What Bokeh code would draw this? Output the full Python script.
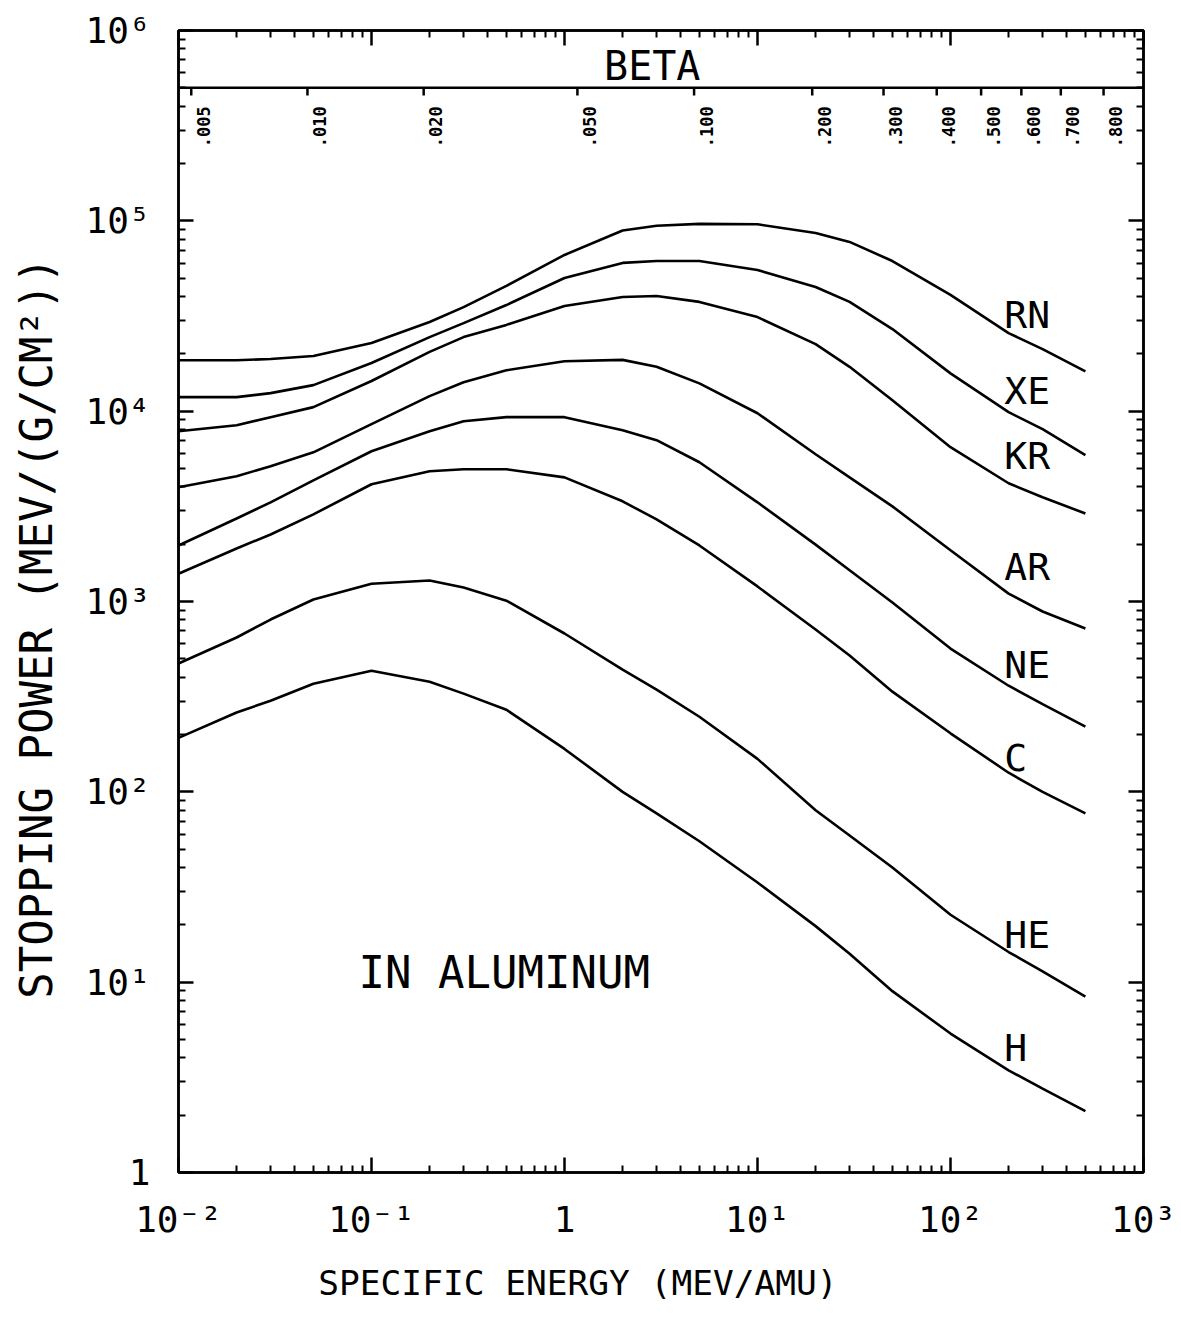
import math
from bokeh.plotting import figure
from bokeh.models import LogAxis, FixedTicker, CustomJSTickFormatter, Span, ColumnDataSource
from bokeh.core.properties import value
from bokeh.embed import file_html
from bokeh.resources import INLINE

FONT = "DejaVu Sans Mono"

# ---- data ----
energy = [0.01, 0.02, 0.03, 0.05, 0.1, 0.2, 0.3, 0.5, 1, 2, 3, 5, 10, 20, 30, 50, 100, 200, 300, 500]

rn = [18500, 18500, 18800, 19500, 22800, 29400, 35200, 45500, 66200, 89000, 94200, 96400, 95900, 86400, 77500, 61500, 40800, 25700, 21200, 16200]
xe = [11850, 11850, 12440, 13700, 17900, 24500, 29000, 36100, 50100, 60100, 61500, 61500, 55200, 44900, 37500, 27000, 15800, 9880, 8040, 5870]
kr = [7850, 8440, 9290, 10500, 14400, 20500, 24500, 28400, 35700, 39800, 40300, 37500, 31200, 22500, 17100, 11400, 6470, 4180, 3530, 2900]
ar = [3980, 4550, 5140, 6080, 8550, 12000, 14200, 16400, 18300, 18600, 17100, 14000, 9750, 5940, 4490, 3160, 1860, 1100, 886, 721]
ne = [1970, 2730, 3320, 4330, 6160, 7850, 8860, 9300, 9300, 7940, 7040, 5390, 3320, 1990, 1460, 988, 566, 361, 289, 220]
c_ = [1400, 1900, 2250, 2870, 4130, 4830, 4950, 4950, 4490, 3360, 2700, 1970, 1200, 713, 520, 336, 203, 126, 100, 77]
he = [472, 647, 804, 1025, 1240, 1290, 1185, 1010, 679, 439, 344, 248, 149, 80, 59, 40, 22.6, 14.4, 11.4, 8.4]
h_ = [192, 261, 301, 370, 433, 379, 328, 270, 168, 100, 77, 55, 33.4, 19.7, 14.1, 8.97, 5.37, 3.44, 2.76, 2.1]

curve_names = ["RN", "XE", "KR", "AR", "NE", "C", "HE", "H"]
curves = [rn, xe, kr, ar, ne, c_, he, h_]
label_energy = [190, 190, 190, 190, 190, 190, 190, 190]
label_power = [32000, 12700, 5800, 1510, 466, 151, 17.7, 4.5]

beta_values = [0.005, 0.01, 0.02, 0.05, 0.1, 0.2, 0.3, 0.4, 0.5, 0.6, 0.7, 0.8]
beta_labels = [".005", ".010", ".020", ".050", ".100", ".200", ".300", ".400", ".500", ".600", ".700", ".800"]
AMU_MEV = 931.494
beta_energy = [AMU_MEV * (1.0 / math.sqrt(1.0 - b * b) - 1.0) for b in beta_values]

x_ticks = [1e-2, 1e-1, 1, 1e1, 1e2, 1e3]
x_tick_labels = ["10\u207b\u00b2", "10\u207b\u00b9", "1", "10\u00b9", "10\u00b2", "10\u00b3"]
y_ticks = [1, 1e1, 1e2, 1e3, 1e4, 1e5, 1e6]
y_tick_labels = ["1", "10\u00b9", "10\u00b2", "10\u00b3", "10\u2074", "10\u2075", "10\u2076"]

x_title = "SPECIFIC ENERGY (MEV/AMU)"
y_title = "STOPPING POWER (MEV/(G/CM\u00b2))"
NBSP = "\u00a0"

def minor_of(decades):
    return [k * d for d in decades[:-1] for k in range(2, 10)]

x_ticker = FixedTicker(ticks=x_ticks, minor_ticks=minor_of(x_ticks))
y_ticker = FixedTicker(ticks=y_ticks, minor_ticks=minor_of(y_ticks))

# ---- figure ----
p = figure(width=1181, height=1323, x_axis_type="log", y_axis_type="log",
           x_range=(1e-2, 1e3), y_range=(1, 1e6),
           output_backend="svg", toolbar_location=None,
           min_border_left=178, min_border_right=38, min_border_top=30, min_border_bottom=151)
p.grid.visible = False
p.outline_line_color = "black"
p.outline_line_width = 2.5
p.background_fill_color = "white"
p.border_fill_color = "white"

lookup_code = """
let out = '';
for (let i = 0; i < tvals.length; i++) {
  if (Math.abs(Math.log10(tvals[i]) - Math.log10(tick)) < 1e-6) { out = tlabs[i]; }
}
return out;
"""

def style_axis(ax):
    ax.axis_line_color = "black"
    ax.axis_line_width = 2.5
    ax.major_tick_in = 15
    ax.major_tick_out = 0
    ax.minor_tick_in = 7
    ax.minor_tick_out = 0
    ax.major_tick_line_color = "black"
    ax.major_tick_line_width = 2.5
    ax.minor_tick_line_color = "black"
    ax.minor_tick_line_width = 2

xa = p.xaxis[0]
style_axis(xa)
xa.ticker = x_ticker
xa.formatter = CustomJSTickFormatter(args=dict(tvals=x_ticks, tlabs=x_tick_labels), code=lookup_code)
xa.major_label_text_font = FONT
xa.major_label_text_font_size = "36px"
xa.major_label_text_color = "black"
xa.major_label_standoff = 26
# trailing no-break spaces shift the centred title left, as in the original
xa.axis_label = x_title + NBSP * 8
xa.axis_label_text_font = FONT
xa.axis_label_text_font_size = "34.5px"
xa.axis_label_text_font_style = "normal"
xa.axis_label_text_color = "black"
xa.axis_label_standoff = 20

ya = p.yaxis[0]
style_axis(ya)
ya.ticker = y_ticker
ya.formatter = CustomJSTickFormatter(args=dict(tvals=y_ticks, tlabs=y_tick_labels), code=lookup_code)
ya.major_label_text_font = FONT
ya.major_label_text_font_size = "36px"
ya.major_label_text_color = "black"
ya.major_label_standoff = 28
# trailing no-break spaces (at the top of the rotated title) shift it down slightly
ya.axis_label = y_title + NBSP * 2
ya.axis_label_text_font = FONT
ya.axis_label_text_font_size = "44px"
ya.axis_label_text_font_style = "normal"
ya.axis_label_text_color = "black"
ya.axis_label_standoff = 20

blank = "return '';"
top_ax = LogAxis(ticker=x_ticker, formatter=CustomJSTickFormatter(code=blank), major_label_standoff=0)
style_axis(top_ax)
p.add_layout(top_ax, "above")
right_ax = LogAxis(ticker=y_ticker, formatter=CustomJSTickFormatter(code=blank), major_label_standoff=0)
style_axis(right_ax)
p.add_layout(right_ax, "right")

# ---- curves ----
for vals in curves:
    p.line(energy, vals, line_color="black", line_width=2.6)

lab_src = ColumnDataSource(dict(x=label_energy, y=label_power, t=curve_names))
p.text(x="x", y="y", text="t", source=lab_src, text_font=value(FONT), text_font_size="38px",
       text_align="left", text_baseline="middle", text_color="black")

p.text(x=[0.0857], y=[11.3], text=["IN ALUMINUM"], text_font=value(FONT), text_font_size="44px",
       text_align="left", text_baseline="middle", text_color="black")

# ---- beta band ----
band_level = 5.0e5
p.add_layout(Span(location=band_level, dimension="width", line_color="black", line_width=2.5))
p.text(x=[2.85], y=[6.5e5], text=["BETA"], text_font=value(FONT), text_font_size="40px",
       text_align="center", text_baseline="middle", text_color="black")
p.segment(x0=beta_energy, y0=[band_level] * len(beta_energy), x1=beta_energy, y1=[4.55e5] * len(beta_energy),
          line_color="black", line_width=2.5)
p.text(x=beta_energy, y=[3.12e5] * len(beta_energy), text=beta_labels, angle=math.pi / 2,
       text_font=value(FONT), text_font_size="17px", text_font_style="bold",
       text_align="center", text_baseline="middle", text_color="black", x_offset=12)

open("out.html", "w").write(file_html(p, INLINE))
